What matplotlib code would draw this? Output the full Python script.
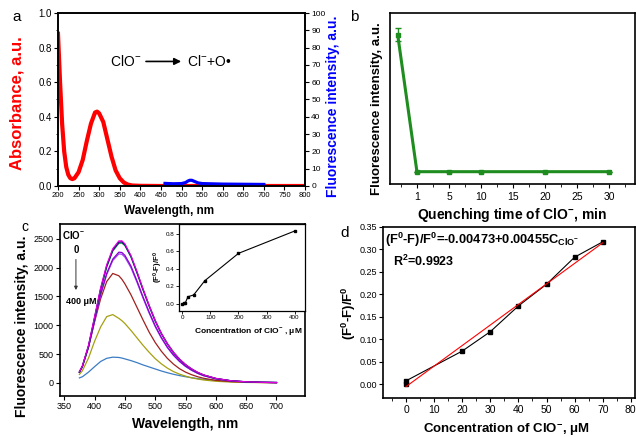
import matplotlib
matplotlib.use('Agg')
import matplotlib.pyplot as plt
from matplotlib.ticker import MultipleLocator

plt.rcParams['font.family'] = ['Liberation Sans', 'DejaVu Sans']
plt.rcParams['mathtext.fontset'] = 'custom'
plt.rcParams['mathtext.rm'] = 'Liberation Sans'
plt.rcParams['mathtext.bf'] = 'Liberation Sans:bold'
plt.rcParams['mathtext.it'] = 'Liberation Sans:italic'
plt.rcParams['axes.linewidth'] = 1.2
plt.rcParams['xtick.major.size'] = 3
plt.rcParams['ytick.major.size'] = 3
plt.rcParams['xtick.minor.size'] = 1.8
plt.rcParams['ytick.minor.size'] = 1.8

W, H = 636, 437

# ── data: panel a ─────────────────────────────────────────────────
abs_wl = [200, 205, 210, 215, 220, 225, 230, 235, 240, 250, 260, 270, 280,
          290, 295, 300, 310, 320, 330, 340, 350, 360, 370, 380, 400, 450, 800]
abs_val = [0.88, 0.60, 0.36, 0.20, 0.11, 0.065, 0.045, 0.04, 0.045, 0.08,
           0.15, 0.26, 0.36, 0.425, 0.43, 0.42, 0.37, 0.27, 0.17, 0.09,
           0.045, 0.02, 0.008, 0.003, 0.001, 0.0, 0.0]
fl_wl = [460, 480, 500, 510, 515, 520, 525, 530, 540, 550, 600, 650, 700]
fl_val = [1.5, 1.3, 1.4, 2.0, 2.8, 3.3, 3.3, 2.8, 1.8, 1.4, 1.1, 1.0, 0.9]

# ── data: panel b ─────────────────────────────────────────────────
b_pos = [-3, 0, 5, 10, 20, 30]
b_val = [87.3, 7.2, 7.2, 7.2, 7.2, 7.2]
b_err = [3.9, 0, 0, 0, 0, 0]
b_ticks = [0, 5, 10, 15, 20, 25, 30]
b_ticklabels = ['1', '5', '10', '15', '20', '25', '30']

# ── data: panel c ─────────────────────────────────────────────────
c_wl = [375, 380, 390, 400, 410, 420, 430, 440, 445, 450, 460, 470, 480, 490,
        500, 510, 520, 530, 540, 550, 560, 570, 580, 600, 625, 650, 675, 700]
c_navy = [185, 290, 640, 1130, 1630, 2030, 2310, 2445, 2450, 2400, 2200, 1920,
          1620, 1340, 1080, 860, 680, 530, 410, 315, 240, 180, 135, 75, 35, 17, 8, 4]
c_green = [185, 288, 635, 1120, 1615, 2010, 2290, 2425, 2430, 2385, 2185, 1905,
           1610, 1330, 1070, 855, 675, 525, 405, 312, 238, 178, 133, 74, 34, 16, 8, 4]
c_magenta = [190, 295, 650, 1145, 1650, 2050, 2330, 2465, 2468, 2415, 2210, 1930,
             1630, 1345, 1085, 862, 682, 532, 412, 316, 241, 181, 136, 76, 35, 17, 8, 4]
c_violet = [185, 285, 620, 1080, 1540, 1900, 2150, 2270, 2265, 2215, 2030, 1770,
            1490, 1230, 990, 790, 620, 485, 375, 288, 220, 165, 124, 69, 32, 15, 7, 3]
c_purple = [185, 283, 615, 1070, 1525, 1880, 2125, 2240, 2235, 2185, 2000, 1745,
            1470, 1210, 975, 778, 612, 478, 370, 284, 217, 163, 122, 68, 31, 15, 7, 3]
c_wine = [185, 285, 620, 1060, 1460, 1760, 1900, 1860, 1800, 1720, 1530, 1310,
          1090, 880, 700, 550, 425, 325, 245, 185, 140, 105, 78, 42, 20, 10, 5, 2]
c_olive = [145, 210, 430, 720, 970, 1150, 1185, 1120, 1080, 1030, 910, 780,
           650, 530, 420, 330, 255, 195, 150, 115, 85, 65, 48, 26, 12, 6, 3, 1]
c_blue = [85, 105, 185, 280, 370, 425, 445, 440, 430, 415, 385, 350, 310, 275,
          240, 205, 175, 148, 125, 105, 88, 73, 60, 40, 24, 14, 8, 5]
c_curves = [c_blue, c_olive, c_wine, c_purple, c_violet, c_green, c_navy, c_magenta]
c_colors = ['#3C7CC4', '#A5A010', '#A0201E', '#A040F0', '#8A00D0',
            '#008040', '#000070', '#E000E0']

inset_conc = [0, 5, 10, 20, 40, 80, 200, 400]
inset_val = [0.0, 0.01, 0.01, 0.083, 0.102, 0.265, 0.576, 0.83]

# ── data: panel d ─────────────────────────────────────────────────
d_conc = [0, 0, 20, 30, 40, 50, 60, 70]
d_val = [0.0, 0.008, 0.074, 0.117, 0.174, 0.222, 0.282, 0.316]
fit_a, fit_b = -0.00473, 0.00455
fit_x = [0, 70]


def px_axes(l, t, r, b):
    return fig.add_axes([l / W, 1 - b / H, (r - l) / W, (b - t) / H])


fig = plt.figure(figsize=(W / 100, H / 100), dpi=100)

# ── panel a ───────────────────────────────────────────────────────
axa = px_axes(58, 13, 305, 186)
axa.plot(abs_wl, abs_val, color='#FF0000', lw=3)
axa.set_xlim(200, 800)
axa.set_ylim(0, 1.0)
axa.xaxis.set_major_locator(MultipleLocator(50))
axa.yaxis.set_major_locator(MultipleLocator(0.2))
axa.yaxis.set_minor_locator(MultipleLocator(0.1))
axa.tick_params(axis='x', labelsize=5.5, pad=1.5)
axa.tick_params(axis='y', labelsize=7, pad=1.5)
axa.set_xlabel('Wavelength, nm', fontsize=8.5, fontweight='bold', va='center')
axa.xaxis.set_label_coords(0.45, -0.143)
axa.set_ylabel('Absorbance, a.u.', fontsize=12, fontweight='bold', color='#FF0000',
               va='center')
axa.yaxis.set_label_coords(-0.167, 0.48)
axa2 = axa.twinx()
axa2.plot(fl_wl, fl_val, color='#0000FF', lw=2.3)
axa2.set_ylim(0, 100)
axa2.yaxis.set_major_locator(MultipleLocator(10))
axa2.tick_params(axis='y', labelsize=6, pad=1.5)
axa2.set_ylabel('Fluorescence intensity, a.u.', fontsize=10, fontweight='bold',
                color='#0000FF', va='center')
axa2.yaxis.set_label_coords(1.115, 0.46)
axa.text(0.21, 0.72, 'ClO$^{-}$', transform=axa.transAxes, fontsize=10,
         ha='left', va='center')
axa.annotate('', xy=(0.51, 0.72), xytext=(0.345, 0.72), xycoords='axes fraction',
             arrowprops=dict(arrowstyle='-|>', color='black', lw=1.2,
                             mutation_scale=10))
axa.text(0.522, 0.72, 'Cl$^{-}$+O\u2022', transform=axa.transAxes, fontsize=10,
         ha='left', va='center')
fig.text(12 / W, 1 - 17 / H, 'a', fontsize=11, ha='left', va='center')

# ── panel b ───────────────────────────────────────────────────────
axb = px_axes(390, 13, 635, 184)
axb.errorbar(b_pos, b_val, yerr=b_err, color='#1E8C1E', lw=2.2, marker='s',
             markersize=3.5, capsize=2, elinewidth=1)
axb.set_xlim(-4.2, 34)
axb.set_ylim(0, 100)
axb.set_yticks([])
axb.set_xticks(b_ticks)
axb.set_xticklabels(b_ticklabels)
axb.xaxis.set_minor_locator(MultipleLocator(2.5))
axb.tick_params(axis='x', which='both', labelsize=7.5, pad=3)
axb.set_ylabel('Fluorescence intensity, a.u.', fontsize=9.5, fontweight='bold',
               va='center')
axb.yaxis.set_label_coords(-0.054, 0.44)
axb.set_xlabel('Quenching time of ClO$^{\\mathbf{-}}$, min', fontsize=10,
               fontweight='bold', va='center')
axb.xaxis.set_label_coords(0.5, -0.18)
fig.text(350 / W, 1 - 17 / H, 'b', fontsize=11, ha='left', va='center')

# ── panel c ───────────────────────────────────────────────────────
axc = px_axes(60, 224, 305, 396)
for ys, col in zip(c_curves, c_colors):
    axc.plot(c_wl, ys, color=col, lw=0.9)
axc.set_xlim(343, 747)
axc.set_ylim(-230, 2760)
axc.xaxis.set_major_locator(MultipleLocator(50))
axc.yaxis.set_major_locator(MultipleLocator(500))
axc.tick_params(labelsize=6.5, pad=1.5)
axc.set_xlabel('Wavelength, nm', fontsize=10, fontweight='bold', va='center')
axc.xaxis.set_label_coords(0.51, -0.165)
axc.set_ylabel('Fluorescence intensity, a.u.', fontsize=10, fontweight='bold',
               va='center')
axc.yaxis.set_label_coords(-0.156, 0.407)
axc.text(0.057, 0.936, 'ClO$^{\\mathbf{-}}$', transform=axc.transAxes, fontsize=7,
         fontweight='bold', ha='center', va='center')
axc.text(0.068, 0.85, '0', transform=axc.transAxes, fontsize=7,
         fontweight='bold', ha='center', va='center')
axc.annotate('', xy=(0.065, 0.60), xytext=(0.065, 0.81), xycoords='axes fraction',
             arrowprops=dict(arrowstyle='-|>', color='#333333', lw=0.7,
                             mutation_scale=5))
axc.text(0.088, 0.547, '400 \u03bcM', transform=axc.transAxes, fontsize=6.5,
         fontweight='bold', ha='center', va='center')
fig.text(21 / W, 1 - 227 / H, 'c', fontsize=10, ha='left', va='center')

# inset
axi = px_axes(179, 224, 305, 311)
axi.plot(inset_conc, inset_val, color='black', lw=0.8, marker='s', markersize=2)
axi.set_xlim(-12, 437)
axi.set_ylim(-0.08, 0.91)
axi.xaxis.set_major_locator(MultipleLocator(100))
axi.yaxis.set_major_locator(MultipleLocator(0.2))
axi.tick_params(labelsize=4.5, pad=1, length=2, width=0.6)
for sp in axi.spines.values():
    sp.set_linewidth(0.9)
axi.set_ylabel('(F$^{\\mathbf{0}}$-F)/F$^{\\mathbf{0}}$', fontsize=5.5,
               fontweight='bold', labelpad=1)
axi.set_xlabel('Concentration of ClO$^{\\mathbf{-}}$ , \u03bcM', fontsize=6,
               fontweight='bold', va='center')
axi.xaxis.set_label_coords(0.55, -0.256)

# ── panel d ───────────────────────────────────────────────────────
axd = px_axes(383, 226.5, 635, 398)
axd.plot(d_conc, d_val, color='black', lw=0.8, marker='s', markersize=3.5)
axd.plot(fit_x, [fit_a + fit_b * x for x in fit_x], color='#FF0000', lw=0.8)
axd.set_xlim(-8.2, 81.5)
axd.set_ylim(-0.03, 0.35)
axd.xaxis.set_major_locator(MultipleLocator(10))
axd.xaxis.set_minor_locator(MultipleLocator(5))
axd.yaxis.set_major_locator(MultipleLocator(0.05))
axd.yaxis.set_major_formatter(plt.FormatStrFormatter('%.2f'))
axd.tick_params(axis='x', which='both', labelsize=7.5, pad=2)
axd.tick_params(axis='y', labelsize=6.5, pad=1.5)
axd.set_xlabel('Concentration of ClO$^{\\mathbf{-}}$, \u03bcM', fontsize=9.5,
               fontweight='bold', va='center')
axd.xaxis.set_label_coords(0.49, -0.187)
axd.set_ylabel('(F$^{\\mathbf{0}}$-F)/F$^{\\mathbf{0}}$', fontsize=9.5,
               fontweight='bold', va='center')
axd.yaxis.set_label_coords(-0.134, 0.494)
axd.text(0.008, 0.92,
         '(F$^{\\mathbf{0}}$-F)/F$^{\\mathbf{0}}$=-0.00473+0.00455C$_{\\mathbf{ClO^{-}}}$',
         transform=axd.transAxes, fontsize=9.3, fontweight='bold', ha='left',
         va='center')
axd.text(0.038, 0.795, 'R$^{\\mathbf{2}}$=0.9923', transform=axd.transAxes,
         fontsize=9, fontweight='bold', ha='left', va='center')
fig.text(340 / W, 1 - 233 / H, 'd', fontsize=11, ha='left', va='center')

fig.savefig('out.png', dpi=100)
